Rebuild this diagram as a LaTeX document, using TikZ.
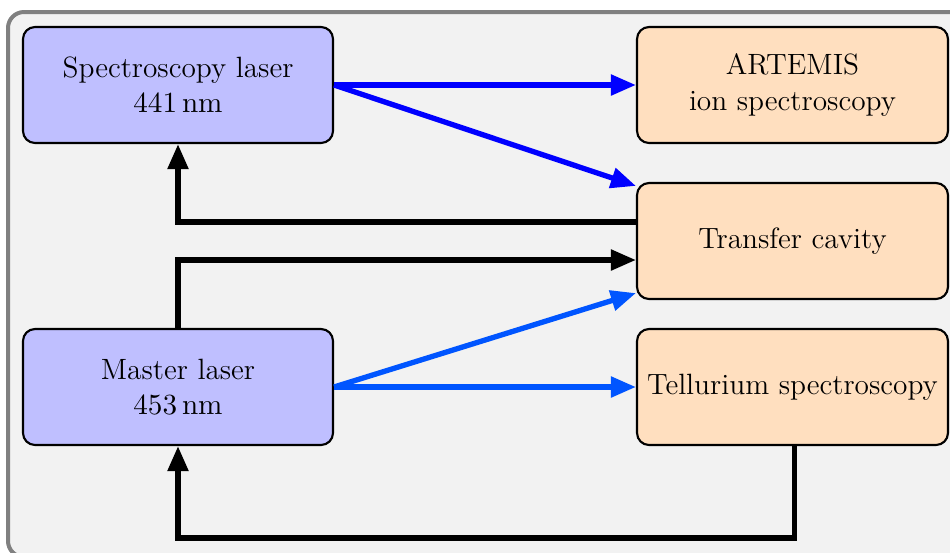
\documentclass[tikz,border=0pt]{standalone}
\usetikzlibrary{arrows.meta,calc}
\definecolor{bgfill}{RGB}{242,242,242}
\definecolor{bgdraw}{RGB}{128,128,128}
\definecolor{laserfill}{RGB}{191,191,255}
\definecolor{expfill}{RGB}{255,223,191}
\definecolor{specblue}{RGB}{0,0,255}
\definecolor{masterblue}{RGB}{0,85,255}
\begin{document}
\begin{tikzpicture}[x=0.375pt,y=-0.375pt,
  box/.style={draw=black, line width=0.8pt, rounded corners=4.5pt,
    minimum width=116.25pt, minimum height=43.5pt, inner sep=0pt,
    align=center, font=\fontsize{11}{13.2}\selectfont},
  laser/.style={box, fill=laserfill},
  expbox/.style={box, fill=expfill, minimum width=116.6pt},
  conn/.style={line width=2pt, -{Triangle[length=9.4pt,width=7.5pt]}},
  ]
\useasboundingbox (0,0) rectangle (950,552);
\clip (0,0) rectangle (950,552);
\draw[fill=bgfill, draw=bgdraw, line width=1.5pt, rounded corners=6pt] (8,12) rectangle (965,557);

\node[laser] (spec) at (178,85) {Spectroscopy laser\\ $441\,\mathrm{nm}$};
\node[laser] (master) at (178,387) {Master laser\\ $453\,\mathrm{nm}$};
\node[expbox] (artemis) at (792.5,85) {ARTEMIS\\ ion spectroscopy};
\node[expbox] (transfer) at (792.5,241) {Transfer cavity};
\node[expbox] (tellur) at (792.5,387) {Tellurium spectroscopy};

\draw[conn, specblue] (spec.east) -- (artemis.west);
\draw[conn, specblue] (spec.east) -- ($(transfer.north west)+(0,4)$);
\draw[conn, black] ($(transfer.west)+(0,-19)$) -| (spec.south);
\draw[conn, black] (master.north) |- ($(transfer.west)+(0,19)$);
\draw[conn, masterblue] (master.east) -- ($(transfer.south west)+(0,-7)$);
\draw[conn, masterblue] (master.east) -- (tellur.west);
\coordinate (tbot) at ($(tellur.south)+(2,92)$);
\draw[conn, black] ($(tellur.south)+(2,0)$) -- (tbot) -| (master.south);
\end{tikzpicture}
\end{document}
